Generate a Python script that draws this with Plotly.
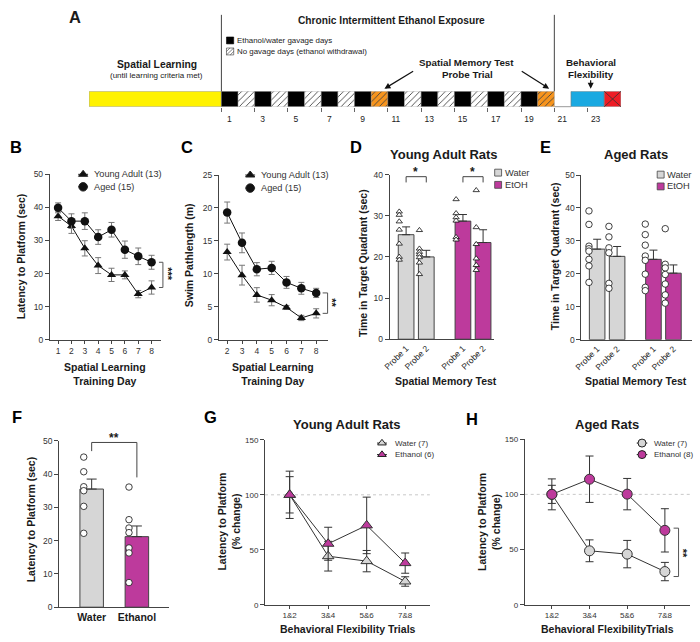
import plotly.graph_objects as go

W, H = 700, 642
def px(x): return x / W
def py(y): return 1 - y / H

FONT = "Arial, 'Liberation Sans', Helvetica, sans-serif"
NARROW = "'Liberation Sans Narrow', 'Arial Narrow', Arial, 'Liberation Sans', sans-serif"
MAG = "#BD3A9C"
LGRAY = "#D6D6D6"
AX = "#444444"
TXT = "#1a1a1a"
YELLOW = "#FFF200"
ORANGE = "#F7941D"
BLUE = "#1AA9E1"
RED = "#EE1C25"

# ---------------- data ----------------
# Panel A timeline
learning_days_drawn = 7.95
cie_days = list(range(1, 21))
probe_days = [10, 20]
flex_days = [22, 23]
final_day = 24
tick_days = list(range(1, 24, 2))

# Panel B
days_b = [1, 2, 3, 4, 5, 6, 7, 8]
young_lat = [37.3, 34.3, 27.6, 22.4, 19.6, 19.6, 13.8, 15.8]
young_lat_err = [1.3, 2.2, 2.3, 2.4, 2.0, 1.2, 1.1, 2.0]
aged_lat = [39.8, 35.8, 35.8, 31.0, 33.2, 27.2, 25.2, 23.4]
aged_lat_err = [1.5, 2.2, 2.5, 2.2, 2.2, 2.6, 2.5, 2.1]

# Panel C
days_c = [2, 3, 4, 5, 6, 7, 8]
young_path = [13.3, 9.8, 6.8, 6.0, 4.9, 3.3, 4.0]
young_path_err = [1.2, 1.5, 1.1, 0.85, 0.3, 0.4, 0.7]
aged_path = [19.3, 14.7, 10.7, 10.9, 8.7, 7.8, 7.1]
aged_path_err = [1.6, 1.5, 1.0, 1.0, 0.9, 0.9, 0.7]

# Panel D / E
probe_labels = ["Probe 1", "Probe 2", "Probe 1", "Probe 2"]
probe_groups = ["Water", "Water", "EtOH", "EtOH"]
young_means = [25.4, 20.0, 28.7, 23.5]
young_sem = [1.9, 1.6, 1.6, 3.1]
young_points = [
    [31.0, 30.2, 28.6, 26.6, 23.2, 20.0, 19.3],
    [26.5, 22.0, 21.2, 20.6, 19.9, 18.6, 15.8],
    [34.0, 30.6, 29.6, 28.8, 24.8, 24.2],
    [36.2, 27.2, 23.1, 19.6, 18.0, 16.8],
]
aged_means = [27.5, 25.3, 24.4, 20.2]
aged_sem = [3.0, 3.0, 2.8, 2.5]
aged_points = [
    [39.1, 35.0, 28.4, 27.6, 26.9, 24.4, 22.4, 17.4],
    [34.4, 31.2, 27.9, 26.4, 17.1, 15.6],
    [35.1, 31.9, 28.7, 25.4, 24.1, 19.9, 15.9, 14.9],
    [33.7, 22.9, 21.8, 19.8, 16.9, 13.6, 11.1],
]

# Panel F
flex_groups = ["Water", "Ethanol"]
flex_means = [35.5, 21.2]
flex_sem = [3.0, 3.2]
flex_points = [
    [45.1, 40.7, 36.2, 35.0, 30.3, 22.2],
    [36.1, 26.3, 23.8, 22.4, 17.8, 16.3, 7.4],
]

# Panel G / H
trials = ["1&2", "3&4", "5&6", "7&8"]
ya_water = [100, 44.2, 39.7, 21.2]
ya_water_err = [21.5, 13.5, 9.7, 4.3]
ya_etoh = [100, 55.5, 72.2, 37.9]
ya_etoh_err = [16.5, 15.0, 25.7, 9.2]
ag_water = [100, 48.9, 45.9, 30.1]
ag_water_err = [14.0, 9.9, 12.4, 8.3]
ag_etoh = [100, 113.7, 100.2, 67.4]
ag_etoh_err = [8.2, 21.0, 14.2, 19.6]

# ---------------- figure ----------------
fig = go.Figure()
shapes = []
anns = []

def ann(text, x, y, size, bold=False, xanchor="center", yanchor="middle",
        angle=0, family=FONT, color=TXT):
    anns.append(dict(text=f"<b>{text}</b>" if bold else text, x=px(x), y=py(y),
                     xref="paper", yref="paper", showarrow=False,
                     font=dict(size=size, family=family, color=color),
                     xanchor=xanchor, yanchor=yanchor, textangle=angle))

def axis(**kw):
    d = dict(showline=True, linecolor=AX, linewidth=1, ticks="outside", ticklen=4,
             tickcolor=AX, tickwidth=1,
             tickfont=dict(size=8.5, color="#333333", family=FONT),
             showgrid=False, zeroline=False, fixedrange=True)
    d.update(kw)
    return d

# ---- Panel A ----
cell_colors, cell_shapes = [], []
for d in cie_days:
    if d in probe_days:
        cell_colors.append(ORANGE); cell_shapes.append("/")
    elif d % 2 == 1:
        cell_colors.append("#000000"); cell_shapes.append("")
    else:
        cell_colors.append("#FFFFFF"); cell_shapes.append("/")

fig.add_trace(go.Bar(x=[-learning_days_drawn / 2], y=[1], width=[learning_days_drawn],
                     marker=dict(color=YELLOW, line=dict(color="#888", width=0.6)),
                     xaxis="x8", yaxis="y8"))
fig.add_trace(go.Bar(x=[d - 0.5 for d in cie_days], y=[1] * len(cie_days),
                     width=[1] * len(cie_days),
                     marker=dict(color=cell_colors, line=dict(color="#888", width=0.4),
                                 pattern=dict(shape=cell_shapes, fgcolor="#444444",
                                              fgopacity=1, size=4.5, solidity=0.2,
                                              fillmode="overlay")),
                     xaxis="x8", yaxis="y8"))
fig.add_trace(go.Bar(x=[sum(flex_days) / len(flex_days) - 0.5], y=[1], width=[len(flex_days)],
                     marker=dict(color=BLUE, line=dict(color="#777", width=0.6)),
                     xaxis="x8", yaxis="y8"))
fig.add_trace(go.Bar(x=[final_day - 0.5], y=[1], width=[1],
                     marker=dict(color=RED, line=dict(color="#777", width=0.6)),
                     xaxis="x8", yaxis="y8"))
# X in final box
for y0, y1 in [(87.7, 103.3), (103.3, 87.7)]:
    shapes.append(dict(type="line", xref="x8", yref="paper", x0=final_day - 1, x1=final_day,
                       y0=py(y0), y1=py(y1), line=dict(color="#333", width=0.8)))
# day 21 bottom line
shapes.append(dict(type="line", xref="x8", yref="paper", x0=cie_days[-1], x1=flex_days[0] - 1,
                   y0=py(103.3), y1=py(103.3), line=dict(color="#999", width=1)))
# CIE period vertical lines
for xv in [0, cie_days[-1]]:
    shapes.append(dict(type="line", xref="x8", yref="paper", x0=xv, x1=xv,
                       y0=py(10), y1=py(87.7), line=dict(color="#444", width=1)))

ann("A", 68, 12.5, 16.5, bold=True)
ann("Chronic Intermittent Ethanol Exposure", 387.5, 15.5, 10.2, bold=True, family=NARROW)
shapes.append(dict(type="rect", xref="paper", yref="paper", x0=px(221), x1=px(228.3),
                   y0=py(39.5), y1=py(32.5), fillcolor="#000", line=dict(color="#000", width=0.6)))
shapes.append(dict(type="rect", xref="paper", yref="paper", x0=px(221), x1=px(228.3),
                   y0=py(50.7), y1=py(43.7), fillcolor="#fff", line=dict(color="#333", width=0.6)))
for (a0, b0, a1, b1) in [(221, 47.2, 224.5, 43.7), (221, 50.7, 228.3, 43.7), (224.8, 50.7, 228.3, 47.2)]:
    shapes.append(dict(type="line", xref="paper", yref="paper", x0=px(a0), y0=py(b0),
                       x1=px(a1), y1=py(b1), line=dict(color="#333", width=0.6)))
ann("Ethanol/water gavage days", 229.3, 36, 7.9, xanchor="left", family=NARROW, color="#222")
ann("No gavage days (ethanol withdrawal)", 229.3, 47.3, 7.9, xanchor="left", family=NARROW,
    color="#222")
ann("Spatial Learning", 150.4, 60.5, 10.3, bold=True, family=NARROW)
ann("(until learning criteria met)", 150.4, 72, 8, family=NARROW, color="#222")
ann("Spatial Memory Test", 463.6, 58.5, 9.8, bold=True, family=NARROW)
ann("Probe Trial", 465, 70.3, 9.8, bold=True, family=NARROW)
ann("Behavioral", 590, 58.5, 9.8, bold=True, family=NARROW)
ann("Flexibility", 590, 70.3, 9.8, bold=True, family=NARROW)
for (hx, hy, ax_, ay_) in [(380.8, 85, 30.2, -18.3), (547.4, 85, -28.9, -18.3), (589.4, 85, 0, -10)]:
    anns.append(dict(text="", x=px(hx), y=py(hy), xref="paper", yref="paper", showarrow=True,
                     ax=ax_, ay=ay_, arrowhead=2, arrowsize=1, arrowwidth=1.2, arrowcolor="#111"))

# ---- Panel B ----
eb = lambda arr: dict(type="data", array=arr, color="#777", thickness=1, width=3)
fig.add_trace(go.Scatter(x=days_b, y=young_lat, error_y=eb(young_lat_err), mode="lines+markers",
                         line=dict(color="#111", width=1),
                         marker=dict(symbol="triangle-up", size=8, color="#111"),
                         cliponaxis=False, xaxis="x", yaxis="y"))
fig.add_trace(go.Scatter(x=days_b, y=aged_lat, error_y=eb(aged_lat_err), mode="lines+markers",
                         line=dict(color="#111", width=1),
                         marker=dict(symbol="circle", size=8.5, color="#111"),
                         cliponaxis=False, xaxis="x", yaxis="y"))
# ---- Panel C ----
fig.add_trace(go.Scatter(x=days_c, y=young_path, error_y=eb(young_path_err), mode="lines+markers",
                         line=dict(color="#111", width=1),
                         marker=dict(symbol="triangle-up", size=8, color="#111"),
                         cliponaxis=False, xaxis="x2", yaxis="y2"))
fig.add_trace(go.Scatter(x=days_c, y=aged_path, error_y=eb(aged_path_err), mode="lines+markers",
                         line=dict(color="#111", width=1),
                         marker=dict(symbol="circle", size=8.5, color="#111"),
                         cliponaxis=False, xaxis="x2", yaxis="y2"))

# ---- Panel D / E bars ----
group_pos = [0, 1, 2.82, 3.82]
bar_cols = [LGRAY if g == "Water" else MAG for g in probe_groups]
def bar_panel(means, sem, pts, xa, ya, symbol, off):
    fig.add_trace(go.Bar(x=group_pos, y=means, width=0.78,
                         marker=dict(color=bar_cols, line=dict(color="#444", width=1)),
                         error_y=dict(type="data", array=sem, arrayminus=[0] * len(sem),
                                      symmetric=False, color="#333", thickness=1, width=4),
                         xaxis=xa, yaxis=ya))
    for p, vals in zip(group_pos, pts):
        fig.add_trace(go.Scatter(x=[p + off] * len(vals), y=vals, mode="markers",
                                 marker=dict(symbol=symbol, size=5.5 if symbol != "circle" else 6.5,
                                             color="white", line=dict(color="#111", width=0.8)),
                                 cliponaxis=False, xaxis=xa, yaxis=ya))
bar_panel(young_means, young_sem, young_points, "x3", "y3", "triangle-up", -0.34)
bar_panel(aged_means, aged_sem, aged_points, "x4", "y4", "circle", -0.41)

# ---- Panel F ----
fig.add_trace(go.Bar(x=[0, 1], y=flex_means, width=0.52,
                     marker=dict(color=[LGRAY, MAG], line=dict(color="#444", width=1)),
                     error_y=dict(type="data", array=flex_sem, arrayminus=[0, 0], symmetric=False,
                                  color="#333", thickness=1, width=5),
                     xaxis="x5", yaxis="y5"))
for p, vals in zip([0, 1], flex_points):
    fig.add_trace(go.Scatter(x=[p - 0.175] * len(vals), y=vals, mode="markers",
                             marker=dict(symbol="circle", size=6.5, color="white",
                                         line=dict(color="#111", width=0.8)),
                             cliponaxis=False, xaxis="x5", yaxis="y5"))

# ---- Panel G / H ----
def flex_line(yv, err, color, symbol, size, xa, ya):
    fig.add_trace(go.Scatter(x=trials, y=yv, mode="lines+markers",
                             error_y=dict(type="data", array=err, color="#333", thickness=1, width=4),
                             line=dict(color="#333", width=1),
                             marker=dict(symbol=symbol, size=size, color=color,
                                         line=dict(color="#333", width=1)),
                             cliponaxis=False, xaxis=xa, yaxis=ya))
flex_line(ya_water, ya_water_err, LGRAY, "triangle-up", 10, "x6", "y6")
flex_line(ya_etoh, ya_etoh_err, MAG, "triangle-up", 10, "x6", "y6")
flex_line(ag_water, ag_water_err, LGRAY, "circle", 10, "x7", "y7")
flex_line(ag_etoh, ag_etoh_err, MAG, "circle", 10, "x7", "y7")
for xa, ya in [("x6", "y6"), ("x7", "y7")]:
    shapes.append(dict(type="line", xref=f"{xa} domain", yref=ya, x0=0, x1=1, y0=100, y1=100,
                       layer="below", line=dict(color="#C8C8C8", width=1, dash="dot")))

# ---- manual legends (overlay pixel axis) ----
def line_sample(x0, x1, y, symbol, fill, size):
    fig.add_trace(go.Scatter(x=[x0, x1], y=[y, y], mode="lines", line=dict(color="#222", width=1),
                             xaxis="x9", yaxis="y9", cliponaxis=False))
    fig.add_trace(go.Scatter(x=[(x0 + x1) / 2], y=[y], mode="markers",
                             marker=dict(symbol=symbol, size=size, color=fill,
                                         line=dict(color="#222", width=1)),
                             xaxis="x9", yaxis="y9", cliponaxis=False))
line_sample(71, 81, 172, "triangle-up", "#111", 8)
line_sample(71, 81, 184.7, "circle", "#111", 8.5)
ann("Young Adult (13)", 85, 172, 9.2, xanchor="left", color="#333")
ann("Aged (15)", 85, 184.7, 9.2, xanchor="left", color="#333")
line_sample(240, 250, 172.7, "triangle-up", "#111", 8)
line_sample(240, 250, 186, "circle", "#111", 8.5)
ann("Young Adult (13)", 254, 172.7, 9.2, xanchor="left", color="#333")
ann("Aged (15)", 254, 186, 9.2, xanchor="left", color="#333")
line_sample(373.3, 383.3, 445, "triangle-up", LGRAY, 7.5)
line_sample(373.3, 383.3, 456.7, "triangle-up", MAG, 7.5)
ann("Water (7)", 389.3, 445, 8, xanchor="left", color="#333")
ann("Ethanol (6)", 389.3, 456.7, 8, xanchor="left", color="#333")
line_sample(636, 646.7, 445, "circle", LGRAY, 8)
line_sample(636, 646.7, 456.7, "circle", MAG, 8)
ann("Water (7)", 651.7, 445, 8, xanchor="left", color="#333")
ann("Ethanol (8)", 651.7, 456.7, 8, xanchor="left", color="#333")
for (sx, ys) in [(492.3, [170.3, 182.7]), (656.7, [172.3, 184.3])]:
    for yy, col, lab in zip(ys, [LGRAY, MAG], ["Water", "EtOH"]):
        shapes.append(dict(type="rect", xref="paper", yref="paper", x0=px(sx), x1=px(sx + 7),
                           y0=py(yy + 3.5), y1=py(yy - 3.5), fillcolor=col,
                           line=dict(color="#444", width=0.8)))
        ann(lab, sx + 8.4, yy, 9.3, xanchor="left", color="#333")

# ---- significance brackets ----
def bracket_v(x0, x1, ya, ytop, ybot):
    for (a, b, c, d) in [(x0, ytop, x1, ytop), (x1, ytop, x1, ybot), (x0, ybot, x1, ybot)]:
        shapes.append(dict(type="line", xref="paper", yref=ya, x0=px(a), x1=px(c), y0=b, y1=d,
                           line=dict(color="#555", width=1)))
bracket_v(152.7, 156.7, "y", aged_lat[-1], young_lat[-1])
ann("***", 161.7, 273.3, 11, bold=True, angle=90)
bracket_v(318.3, 323.3, "y2", aged_path[-1], young_path[-1])
ann("**", 327.7, 303, 11, bold=True, angle=90)
bracket_v(673.3, 678.3, "y7", ag_etoh[-1] + 2, ag_water[-1] - 4.5)
ann("**", 683, 556.7, 11, bold=True, angle=90)

def bracket_h(xa, ya, xl, xr, ytop, yl, yr):
    for (a, b, c, d) in [(xl, ytop, xr, ytop), (xl, ytop, xl, yl), (xr, ytop, xr, yr)]:
        shapes.append(dict(type="line", xref=xa, yref=ya, x0=a, x1=c, y0=b, y1=d,
                           line=dict(color="#444", width=1)))
bracket_h("x3", "y3", group_pos[0], group_pos[1], 39.5, 38.1, 38.1)
bracket_h("x3", "y3", group_pos[2], group_pos[3], 39.5, 38.1, 38.1)
ann("*", 412.5, 170, 12, bold=True)
ann("*", 470, 170, 12, bold=True)
bracket_h("x5", "y5", 0, 1, 49.5, 46.9, 39.0)
ann("**", 107.3, 439.5, 12, bold=True)

# ---- titles / labels ----
for lab, x, y in [("B", 8.3, 144), ("C", 181, 144), ("D", 351.7, 144), ("E", 543.5, 144),
                  ("F", 8.7, 419), ("G", 205.3, 419), ("H", 469.5, 421)]:
    ann(lab, x, y, 16.5, bold=True, color="#000")
ann("Latency to Platform (sec)", 13.3, 256, 10.5, bold=True, angle=-90)
ann("Swim Pathlength (m)", 183.3, 254, 10.5, bold=True, angle=-90)
ann("Time in Target Quadrant (sec)", 359.3, 262, 10.5, bold=True, angle=-90)
ann("Time in Target Quadrant (sec)", 553.5, 255, 10.5, bold=True, angle=-90)
ann("Latency to Platform (sec)", 22.7, 523, 10.5, bold=True, angle=-90)
ann("Latency to Platform<br>(% change)", 223.3, 525, 10.5, bold=True, angle=-90)
ann("Latency to Platform<br>(% change)", 486.7, 525, 10.5, bold=True, angle=-90)
ann("Spatial Learning<br>Training Day", 98.3, 375, 10.5, bold=True)
ann("Spatial Learning<br>Training Day", 267.7, 375, 10.5, bold=True)
ann("Spatial Memory Test", 443, 381.7, 10.5, bold=True)
ann("Spatial Memory Test", 635.3, 381.7, 10.5, bold=True)
ann("Behavioral Flexibility Trials", 344.3, 634, 10.5, bold=True)
ann("Behavioral FlexibilityTrials", 606.7, 634, 10.5, bold=True)
ann("Young Adult Rats", 441, 152, 13, bold=True)
ann("Aged Rats", 635.3, 152.3, 13, bold=True)
ann("Young Adult Rats", 343, 426, 13, bold=True)
ann("Aged Rats", 606, 426, 13, bold=True)

# ---------------- layout ----------------
lay = dict(
    width=W, height=H, margin=dict(l=0, r=0, t=0, b=0),
    paper_bgcolor="white", plot_bgcolor="rgba(0,0,0,0)", showlegend=False,
    barmode="overlay", font=dict(family=FONT, color=TXT),
    shapes=shapes, annotations=anns,
    xaxis=axis(domain=[px(42.3), px(154.3)], range=[0.38, 8.67], anchor="y",
               tickvals=days_b, ticklen=3),
    yaxis=axis(domain=[py(340.2), py(171.7)], range=[0, 50], dtick=10, anchor="x"),
    xaxis2=axis(domain=[px(213.3), px(323.3)], range=[1.44, 8.77], anchor="y2",
                tickvals=days_c, ticklen=3),
    yaxis2=axis(domain=[py(340), py(172.7)], range=[0, 25], dtick=5, anchor="x2"),
    xaxis3=axis(domain=[px(386), px(492)], range=[-0.82, 4.38], anchor="y3",
                tickvals=group_pos, ticktext=probe_labels, tickangle=-45, ticks="",
                tickfont=dict(size=8.5, color="#222222", family=FONT)),
    yaxis3=axis(domain=[py(339.5), py(172.3)], range=[0, 40], dtick=10, anchor="x3"),
    xaxis4=axis(domain=[px(580), px(691.7)], range=[-0.79, 4.74], anchor="y4",
                tickvals=group_pos, ticktext=probe_labels, tickangle=-45, ticks="",
                tickfont=dict(size=8.5, color="#222222", family=FONT)),
    yaxis4=axis(domain=[py(340), py(172.7)], range=[0, 50], dtick=10, anchor="x4"),
    xaxis5=axis(domain=[px(51.7), px(163.3)], range=[-0.72, 1.72], anchor="y5",
                tickvals=[0, 1], ticktext=[f"<b>{g}</b>" for g in flex_groups], ticks="",
                tickfont=dict(size=10.5, color=TXT, family=FONT)),
    yaxis5=axis(domain=[py(611.7), py(442.7)], range=[0, 50], dtick=10, anchor="x5"),
    xaxis6=axis(domain=[px(260), px(426.7)], range=[-0.64, 3.64], anchor="y6", type="category",
                ticklen=3, tickfont=dict(size=8, color="#333", family=FONT)),
    yaxis6=axis(domain=[py(609.3), py(441.7)], range=[0, 150], dtick=50, anchor="x6",
                tickfont=dict(size=8, color="#333", family=FONT)),
    xaxis7=axis(domain=[px(522.7), px(690)], range=[-0.72, 3.67], anchor="y7", type="category",
                ticklen=3, tickfont=dict(size=8, color="#333", family=FONT)),
    yaxis7=axis(domain=[py(609.3), py(441)], range=[0, 150], dtick=50, anchor="x7",
                tickfont=dict(size=8, color="#333", family=FONT)),
    xaxis8=dict(domain=[px(82), px(620)], range=[-learning_days_drawn, final_day], anchor="y8",
                showline=False, showgrid=False, zeroline=False, ticks="outside", ticklen=4,
                tickcolor="#666", tickvals=[d - 1 for d in tick_days],
                ticktext=[str(d) for d in tick_days], ticklabelshift=8,
                tickfont=dict(size=8.5, family=NARROW, color="#222"), fixedrange=True),
    yaxis8=dict(domain=[py(103.3), py(87.7)], range=[0, 1], anchor="x8", visible=False,
                fixedrange=True),
    xaxis9=dict(domain=[0, 1], range=[0, W], anchor="y9", visible=False, fixedrange=True),
    yaxis9=dict(domain=[0, 1], range=[H, 0], anchor="x9", visible=False, fixedrange=True),
)
fig.update_layout(**lay)
fig.write_html("out.html", config={"displayModeBar": False, "staticPlot": True},
               post_script="document.body.style.margin='0';document.body.style.overflow='hidden';")
